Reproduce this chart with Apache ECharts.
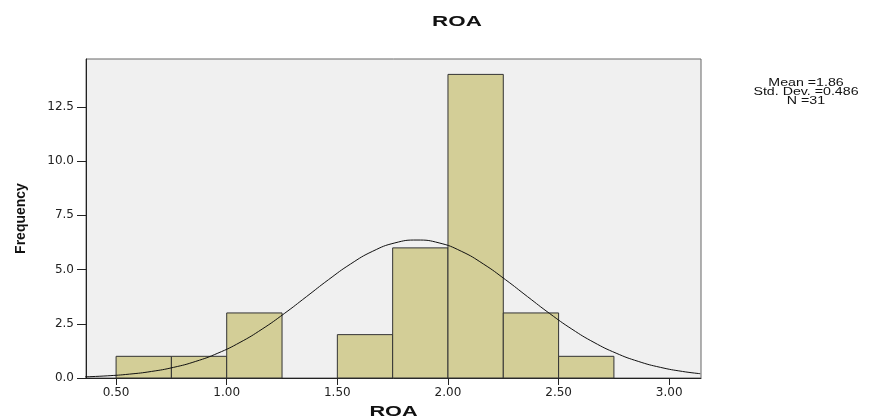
<!DOCTYPE html>
<html>
<head>
<meta charset="utf-8">
<script src="https://cdn.jsdelivr.net/npm/echarts@6/dist/echarts.min.js"></script>
<style>html,body{margin:0;padding:0;background:#fff}#c{width:876px;height:419px}</style>
</head>
<body>
<div id="c"></div>
<script>
// Histogram bins (start of each bin, width 0.25) and frequencies
const binStarts = [0.50, 0.75, 1.00, 1.25, 1.50, 1.75, 2.00, 2.25, 2.50];
const binWidth = 0.25;
const counts = [1, 1, 3, 0, 2, 6, 14, 3, 1];
// Fitted normal curve
const curveX = [0.36,0.46,0.56,0.66,0.76,0.86,0.96,1.06,1.16,1.26,1.36,1.46,1.56,1.66,1.76,1.86,1.96,2.06,2.16,2.26,2.36,2.46,2.56,2.66,2.76,2.86,2.96,3.06,3.14];
const curveY = [0.054,0.100,0.178,0.302,0.491,0.766,1.145,1.641,2.255,2.970,3.748,4.534,5.258,5.846,6.229,6.362,6.229,5.846,5.258,4.534,3.748,2.970,2.255,1.641,1.145,0.766,0.491,0.302,0.199];
const xTicks = [0.5, 1.0, 1.5, 2.0, 2.5, 3.0];
const yTicks = [0, 2.5, 5.0, 7.5, 10.0, 12.5];
const titleText = 'ROA';
const xName = 'ROA';
const yName = 'Frequency';
const statsLines = ['Mean =1.86', 'Std. Dev. =0.486', 'N =31'];

const chart = echarts.init(document.getElementById('c'));
const FONT = '"Liberation Sans", Arial, sans-serif';
const TICKFONT = '"DejaVu Sans", sans-serif';

const graphics = [
  {type: 'text', x: 457, y: 22, scaleX: 1.6,
   style: {text: titleText, textAlign: 'center', textVerticalAlign: 'middle',
           font: 'bold 14px ' + FONT, fill: '#111'}},
  {type: 'text', x: 393.5, y: 412, scaleX: 1.55,
   style: {text: xName, textAlign: 'center', textVerticalAlign: 'middle',
           font: 'bold 14px ' + FONT, fill: '#111'}}
];
statsLines.forEach((t, i) => {
  graphics.push({type: 'text', x: 806, y: 83 + i * 9.3, scaleX: 1.42,
    style: {text: t, textAlign: 'center', textVerticalAlign: 'middle',
            font: '10px ' + FONT, fill: '#111'}});
});

chart.setOption({
  animation: false,
  backgroundColor: '#fff',
  grid: {
    left: 86, top: 59, right: 175, bottom: 41,
    outerBoundsMode: 'none', containLabel: false,
    show: true, backgroundColor: '#f0f0f0', borderColor: '#666', borderWidth: 1
  },
  xAxis: {
    type: 'value', min: 0.364, max: 3.1436,
    axisLine: {show: true, onZero: false, lineStyle: {color: '#222', width: 1}},
    axisTick: {show: true, length: 7, customValues: xTicks, lineStyle: {color: '#222'}},
    axisLabel: {customValues: xTicks, margin: 9, fontFamily: TICKFONT, fontSize: 12, color: '#222',
      formatter: v => v.toFixed(2)},
    splitLine: {show: false}
  },
  yAxis: {
    type: 'value', min: 0, max: 14.71,
    name: yName, nameLocation: 'middle', nameGap: 58, nameRotate: 90,
    nameTextStyle: {fontFamily: FONT, fontSize: 14, fontWeight: 'bold', color: '#111'},
    axisLine: {show: true, lineStyle: {color: '#222', width: 1}},
    axisTick: {show: true, length: 9, customValues: yTicks, lineStyle: {color: '#222'}},
    axisLabel: {customValues: yTicks, margin: 12, fontFamily: TICKFONT, fontSize: 12, color: '#222',
      formatter: v => v.toFixed(1)},
    splitLine: {show: false}
  },
  graphic: graphics,
  series: [{
    type: 'custom',
    data: binStarts.map((s, i) => [s, s + binWidth, counts[i]]),
    renderItem: (params, api) => {
      const p0 = api.coord([api.value(0), 0]);
      const p1 = api.coord([api.value(1), api.value(2)]);
      if (api.value(2) === 0) return null;
      return {
        type: 'rect',
        shape: {x: p0[0], y: p1[1], width: p1[0] - p0[0], height: p0[1] - p1[1]},
        style: {fill: '#d3ce97', stroke: '#333', lineWidth: 1}
      };
    },
    z: 2
  }, {
    type: 'line',
    data: curveX.map((x, i) => [x, curveY[i]]),
    smooth: true, showSymbol: false,
    lineStyle: {color: '#111', width: 1},
    z: 3
  }]
});
</script>
</body>
</html>
